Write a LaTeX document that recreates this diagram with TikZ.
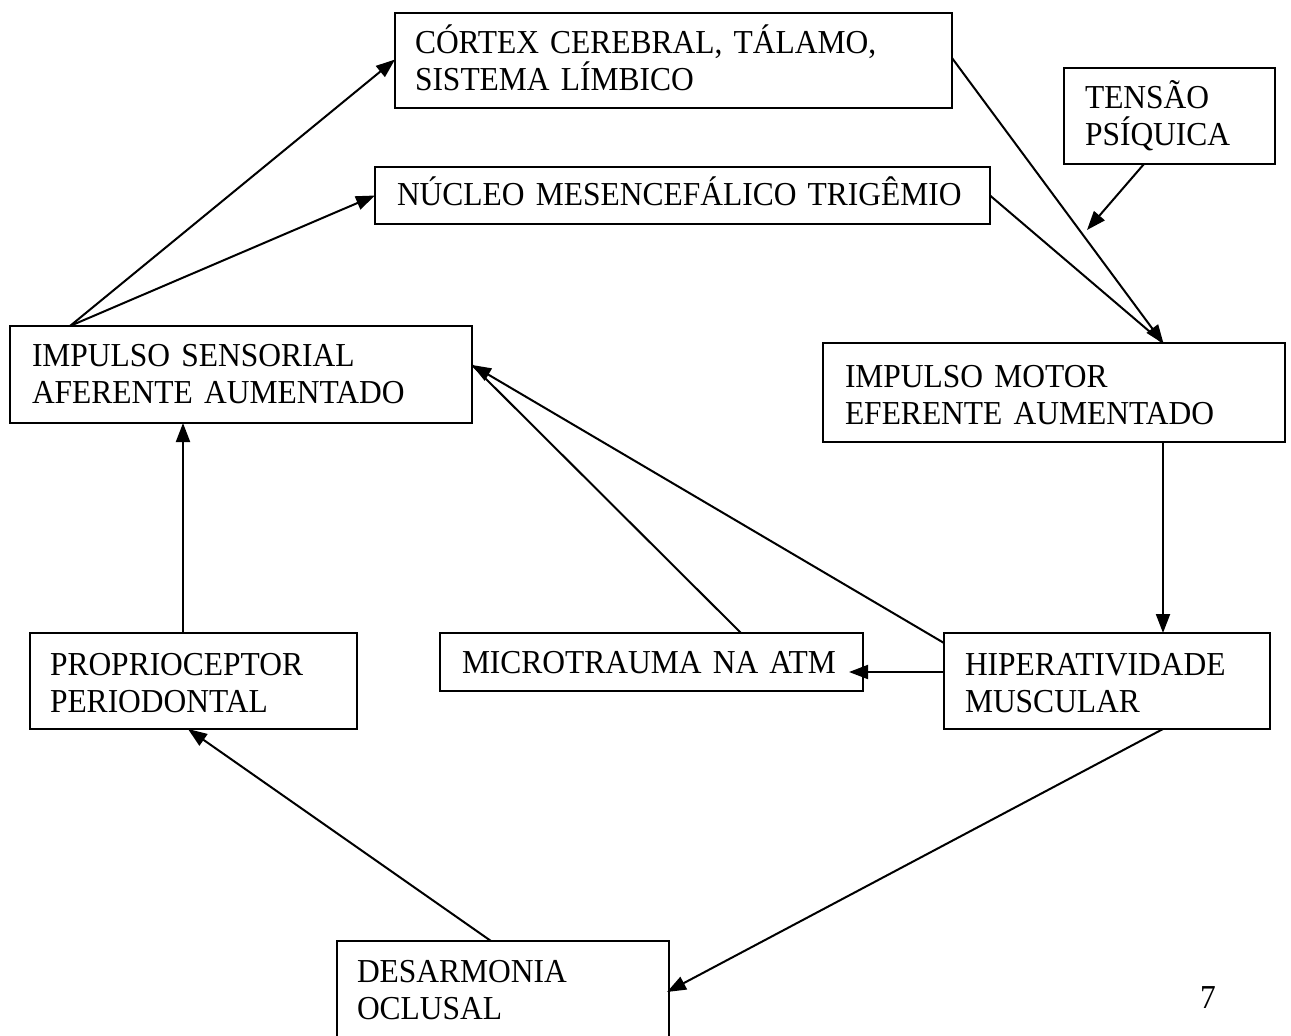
\documentclass[tikz,border=0pt]{standalone}
\usepackage{fontspec}
\setmainfont[FakeStretch=0.94]{Liberation Serif}
\usetikzlibrary{arrows.meta}
\begin{document}
\begin{tikzpicture}[x=1pt,y=-1pt,
  box/.style={draw=black,line width=2pt,rectangle,anchor=north west,inner sep=0pt,outer sep=0pt},
  txt/.style={anchor=base west,inner sep=0pt,outer sep=0pt,align=left,text width=600pt,font=\fontsize{33.5}{37}\selectfont},
  arr/.style={line width=2pt,-{Triangle[length=19pt,width=14pt]}},
  ln/.style={line width=2pt}]
\clip (0,0) rectangle (1291,1036);
\fill[white] (0,0) rectangle (1291,1036);
% boxes
\node[box,minimum width=557pt,minimum height=95pt] (cortex) at (395,13) {};
\node[box,minimum width=211pt,minimum height=96pt] (tensao) at (1064,68) {};
\node[box,minimum width=615pt,minimum height=57pt] (nucleo) at (375,167) {};
\node[box,minimum width=462pt,minimum height=97pt] (sensorial) at (10,326) {};
\node[box,minimum width=462pt,minimum height=99pt] (motor) at (823,343) {};
\node[box,minimum width=327pt,minimum height=96pt] (proprio) at (30,633) {};
\node[box,minimum width=423pt,minimum height=58pt] (micro) at (440,633) {};
\node[box,minimum width=326pt,minimum height=96pt] (hiper) at (944,633) {};
\node[box,minimum width=332pt,minimum height=130pt] (desarm) at (337,941) {};
% texts
\node[txt] (cortex-t) at (415,53) {CÓRTEX CEREBRAL, TÁLAMO,\\SISTEMA LÍMBICO};
\node[txt] (tensao-t) at (1085,108) {TENSÃO\\PSÍQUICA};
\node[txt] (nucleo-t) at (397,205) {NÚCLEO MESENCEFÁLICO TRIGÊMIO};
\node[txt] (sensorial-t) at (32,366) {IMPULSO SENSORIAL\\AFERENTE AUMENTADO};
\node[txt] (motor-t) at (845,387) {IMPULSO MOTOR\\EFERENTE AUMENTADO};
\node[txt] (proprio-t) at (50,675) {PROPRIOCEPTOR\\PERIODONTAL};
\node[txt] (micro-t) at (462,673) {MICROTRAUMA NA ATM};
\node[txt] (hiper-t) at (965,675) {HIPERATIVIDADE\\MUSCULAR};
\node[txt] (desarm-t) at (357,982) {DESARMONIA\\OCLUSAL};
\node[txt] (page) at (1200,1008) {7};
% free end
\coordinate (tensao-end) at (1087,230);
% connectors
\draw[arr] ([xshift=60pt]sensorial.north west) -- ([yshift=1pt]cortex.west);
\draw[arr] ([xshift=60pt]sensorial.north west) -- (nucleo.west);
\draw[arr,shorten >=-1pt] ([yshift=-45pt]cortex.north east) -- ([xshift=340pt]motor.north west);
\draw[ln] (nucleo.east) -- ([xshift=340pt]motor.north west);
\draw[arr] ([xshift=80pt]tensao.south west) -- (tensao-end);
\draw[arr] ([xshift=340pt]motor.south west) -- ([xshift=219pt]hiper.north west);
\draw[arr] ([yshift=9pt]hiper.west) -- ([xshift=-14pt,yshift=-10pt]micro.east);
\draw[arr] ([yshift=-10pt]hiper.north west) -- ([yshift=-39pt]sensorial.north east);
\draw[ln] ([xshift=301pt]micro.north west) -- ([yshift=-39pt]sensorial.north east);
\draw[arr] ([xshift=153pt]proprio.north west) -- ([xshift=173pt]sensorial.south west);
\draw[arr] ([xshift=154pt]desarm.north west) -- ([xshift=158pt]proprio.south west);
\draw[arr] ([xshift=219pt]hiper.south west) -- ([xshift=-2pt,yshift=-51pt]desarm.north east);
\end{tikzpicture}
\end{document}
